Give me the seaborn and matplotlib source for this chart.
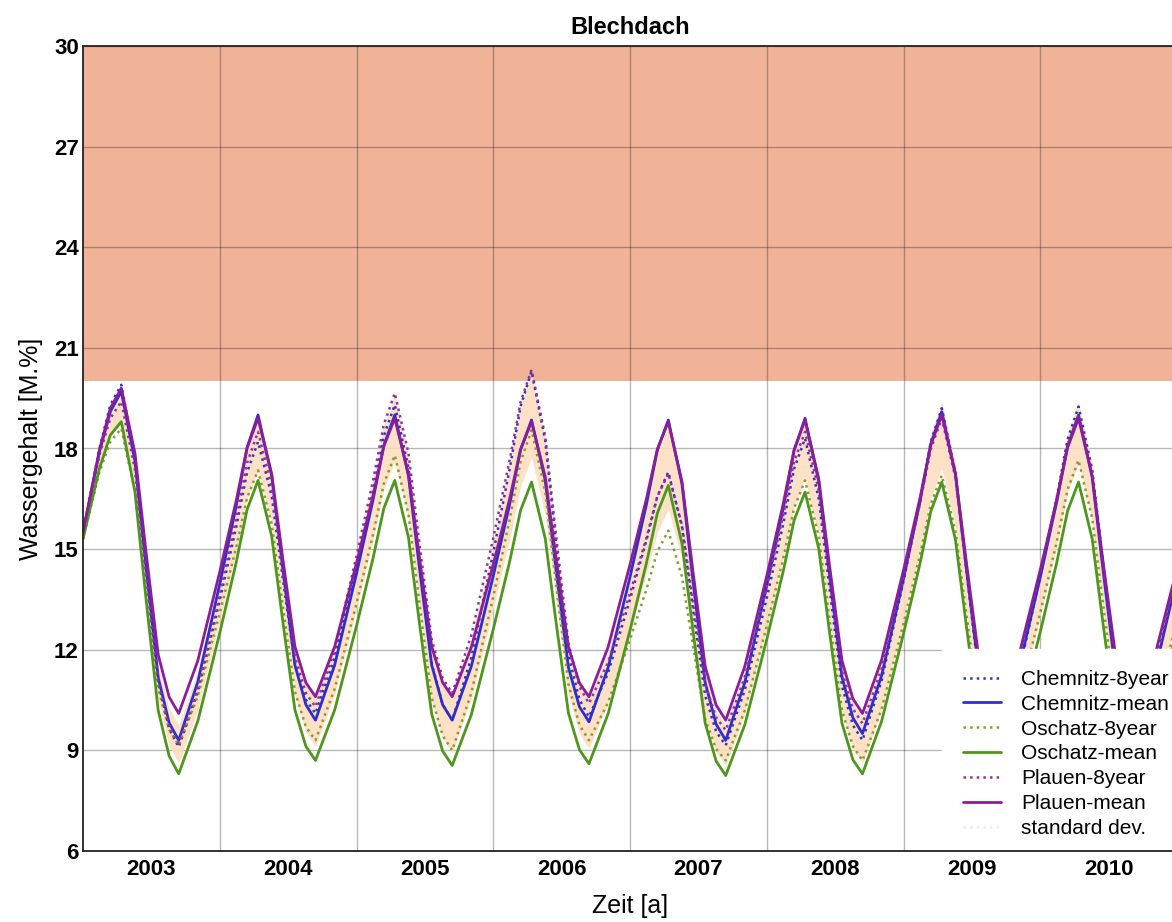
import numpy as np
import pandas as pd
import matplotlib
matplotlib.use("Agg")
import matplotlib.pyplot as plt
from matplotlib.lines import Line2D
from matplotlib.ticker import FixedLocator, NullFormatter
import seaborn as sns

# Sampling positions within each year (fraction of the year)
phase = [0.00, 0.12, 0.20, 0.28, 0.38, 0.46, 0.55, 0.63, 0.70, 0.84]
years = list(range(2003, 2011))
year_labels = [str(y) for y in years]

# Water content [M.%] per station, one row per year, last value = start of 2011
chemnitz_8year = [
    15.50, 18.00, 19.30, 19.90, 17.74, 14.50, 11.04, 9.64, 9.10, 10.74,
    13.47, 15.65, 17.29, 18.20, 16.58, 14.15, 11.56, 10.51, 10.10, 11.76,
    14.52, 16.72, 18.38, 19.30, 17.42, 14.60, 11.59, 10.37, 9.90, 11.77,
    14.89, 17.39, 19.26, 20.30, 18.24, 15.15, 11.85, 10.52, 10.00, 11.31,
    13.50, 15.26, 16.57, 17.30, 15.67, 13.23, 10.62, 9.56, 9.15, 10.80,
    13.54, 15.74, 17.39, 18.30, 16.50, 13.80, 10.92, 9.75, 9.30, 11.08,
    14.05, 16.43, 18.21, 19.20, 17.26, 14.35, 11.25, 9.99, 9.50, 11.26,
    14.18, 16.52, 18.28, 19.25, 17.36, 14.53, 11.50, 10.27, 9.80, 11.46,
    14.22,
]
chemnitz_mean = [
    15.50, 17.90, 19.10, 19.70, 17.62, 14.50, 11.17, 9.82, 9.30, 11.05,
    13.96, 16.28, 18.03, 19.00, 17.18, 14.45, 11.54, 10.36, 9.90, 11.54,
    14.27, 16.45, 18.09, 19.00, 17.18, 14.45, 11.54, 10.36, 9.90, 11.51,
    14.20, 16.34, 17.96, 18.85, 17.05, 14.35, 11.47, 10.30, 9.85, 11.47,
    14.17, 16.33, 17.95, 18.85, 16.94, 14.08, 11.02, 9.78, 9.30, 11.03,
    13.91, 16.21, 17.94, 18.90, 17.02, 14.20, 11.19, 9.97, 9.50, 11.23,
    14.11, 16.41, 18.14, 19.10, 17.22, 14.40, 11.39, 10.17, 9.70, 11.37,
    14.16, 16.40, 18.07, 19.00, 17.14, 14.35, 11.37, 10.17, 9.70, 11.37,
    14.16,
]
oschatz_8year = [
    15.30, 17.30, 18.20, 18.60, 16.71, 13.88, 10.85, 9.62, 9.15, 10.63,
    13.09, 15.05, 16.53, 17.35, 15.74, 13.33, 10.75, 9.70, 9.30, 10.83,
    13.38, 15.42, 16.95, 17.80, 16.04, 13.40, 10.58, 9.44, 9.00, 10.72,
    13.58, 15.88, 17.60, 18.55, 16.70, 13.93, 10.97, 9.76, 9.30, 10.43,
    12.30, 13.80, 14.93, 15.55, 14.18, 12.13, 9.93, 9.04, 8.70, 10.20,
    12.71, 14.71, 16.22, 17.05, 15.38, 12.88, 10.20, 9.12, 8.70, 10.23,
    12.78, 14.82, 16.35, 17.20, 15.54, 13.05, 10.39, 9.32, 8.90, 10.48,
    13.10, 15.20, 16.78, 17.65, 15.92, 13.33, 10.56, 9.43, 9.00, 10.44,
    12.84,
]
oschatz_mean = [
    15.30, 17.40, 18.40, 18.80, 16.70, 13.55, 10.19, 8.83, 8.30, 9.88,
    12.50, 14.60, 16.18, 17.05, 15.38, 12.88, 10.20, 9.12, 8.70, 10.20,
    12.71, 14.71, 16.22, 17.05, 15.35, 12.80, 10.08, 8.98, 8.55, 10.07,
    12.61, 14.63, 16.16, 17.00, 15.32, 12.80, 10.11, 9.02, 8.60, 10.09,
    12.58, 14.58, 16.07, 16.90, 15.17, 12.58, 9.81, 8.68, 8.25, 9.77,
    12.31, 14.33, 15.86, 16.70, 15.02, 12.50, 9.81, 8.72, 8.30, 9.87,
    12.48, 14.56, 16.13, 17.00, 15.28, 12.70, 9.95, 8.83, 8.40, 9.95,
    12.53, 14.59, 16.14, 17.00, 15.30, 12.75, 10.03, 8.93, 8.50, 10.03,
    12.58,
]
plauen_8year = [
    15.50, 17.80, 18.90, 19.40, 17.36, 14.30, 11.04, 9.71, 9.20, 10.87,
    13.66, 15.90, 17.57, 18.50, 16.86, 14.40, 11.78, 10.71, 10.30, 11.98,
    14.79, 17.03, 18.72, 19.65, 17.86, 15.18, 12.31, 11.15, 10.70, 12.44,
    15.33, 17.65, 19.39, 20.35, 18.36, 15.38, 12.19, 10.90, 10.40, 11.63,
    13.69, 15.33, 16.57, 17.25, 15.72, 13.43, 10.98, 9.98, 9.60, 11.20,
    13.87, 16.01, 17.61, 18.50, 16.76, 14.15, 11.37, 10.24, 9.80, 11.44,
    14.17, 16.35, 17.99, 18.90, 17.12, 14.45, 11.60, 10.45, 10.00, 11.62,
    14.32, 16.48, 18.10, 19.00, 17.20, 14.50, 11.62, 10.45, 10.00, 11.60,
    14.27,
]
plauen_mean = [
    15.50, 17.95, 19.20, 19.80, 17.86, 14.95, 11.85, 10.59, 10.10, 11.68,
    14.32, 16.44, 18.02, 18.90, 17.24, 14.75, 12.09, 11.02, 10.60, 12.09,
    14.58, 16.58, 18.07, 18.90, 17.24, 14.75, 12.09, 11.02, 10.60, 12.08,
    14.54, 16.50, 17.98, 18.80, 17.16, 14.70, 12.08, 11.01, 10.60, 12.08,
    14.54, 16.50, 17.98, 18.80, 17.02, 14.35, 11.50, 10.35, 9.90, 11.51,
    14.20, 16.34, 17.96, 18.85, 17.10, 14.48, 11.68, 10.54, 10.10, 11.70,
    14.37, 16.51, 18.11, 19.00, 17.24, 14.60, 11.78, 10.64, 10.20, 11.77,
    14.38, 16.46, 18.03, 18.90, 17.18, 14.60, 11.85, 10.73, 10.30, 11.85,
    14.43,
]

series_names = ["Chemnitz-8year", "Chemnitz-mean", "Oschatz-8year",
                "Oschatz-mean", "Plauen-8year", "Plauen-mean"]
series_values = [chemnitz_8year, chemnitz_mean, oschatz_8year,
                 oschatz_mean, plauen_8year, plauen_mean]
series_colors = ["#3232c4", "#2f2fc8", "#8a9c2e", "#4f961c", "#93309f", "#8a1d98"]
series_styles = [":", "-", ":", "-", ":", "-"]

time = [y + p for y in years for p in phase] + [years[-1] + 1.0]

frames = []
for name, vals in zip(series_names, series_values):
    frames.append(pd.DataFrame({"Zeit": time, "Wassergehalt": vals, "Reihe": name}))
df = pd.concat(frames, ignore_index=True)

# spread across all six runs
wide = df.pivot(index="Zeit", columns="Reihe", values="Wassergehalt")
band_mean = wide.mean(axis=1)
band_std = wide.std(axis=1)

sns.set_theme(style="white")
plt.rcParams["font.family"] = ["Liberation Sans", "DejaVu Sans"]
plt.rcParams["text.color"] = "black"
plt.rcParams["axes.labelcolor"] = "black"
plt.rcParams["xtick.color"] = "black"
plt.rcParams["ytick.color"] = "black"

fig = plt.figure(figsize=(11.72, 9.22), dpi=100)
ax = fig.add_axes([83 / 1172, 1 - 851 / 922, (1177 - 83) / 1172, (851 - 46) / 922])

# critical moisture zone
ax.axhspan(20, 30, color="#f1b398", zorder=0.2, lw=0)

ax.fill_between(wide.index, band_mean - band_std, band_mean + band_std,
                color="#fcdcbc", alpha=0.85, lw=0, zorder=1)

for name, col, ls in zip(series_names, series_colors, series_styles):
    sub = df[df["Reihe"] == name]
    sns.lineplot(data=sub, x="Zeit", y="Wassergehalt", ax=ax, color=col,
                 linestyle=ls, lw=2.0 if ls == "-" else 1.8, label=name,
                 estimator=None, sort=False, zorder=2)

handles, labels = ax.get_legend_handles_labels()
if ax.get_legend() is not None:
    ax.get_legend().remove()

ax.set_xlim(2003, 2011)
ax.set_ylim(6, 30)
ax.set_yticks([6, 9, 12, 15, 18, 21, 24, 27, 30])
ax.set_xticks([y + 0.5 for y in years])
ax.set_xticklabels(year_labels)
ax.xaxis.set_minor_locator(FixedLocator(list(range(2004, 2011))))
ax.xaxis.set_minor_formatter(NullFormatter())
ax.tick_params(axis="both", which="both", length=0)
ax.tick_params(axis="y", pad=3, labelsize=16)
ax.tick_params(axis="x", pad=6, labelsize=16)
for lab in ax.get_xticklabels() + ax.get_yticklabels():
    lab.set_fontweight("bold")

ax.set_axisbelow(True)
ax.grid(False)
ax.grid(axis="y", which="major", color="#000000", alpha=0.28, lw=1.0)
ax.grid(axis="x", which="minor", color="#000000", alpha=0.28, lw=1.0)

for side in ["left", "bottom", "top", "right"]:
    ax.spines[side].set_color("#222222")
    ax.spines[side].set_linewidth(1.3)

ax.set_xlabel("Zeit [a]", fontsize=18, labelpad=10)
ax.set_ylabel("Wassergehalt [M.%]", fontsize=18, labelpad=8)
ax.set_title("Blechdach", fontsize=17, fontweight="bold", pad=9)

handles.append(Line2D([], [], color="#ececec", linestyle=":", lw=1.8))
labels.append("standard dev.")
leg = ax.legend(handles, labels, loc="upper left",
                bbox_to_anchor=(942 / 1172, 1 - 649 / 922),
                bbox_transform=fig.transFigure,
                fontsize=15, frameon=True, fancybox=False, framealpha=1.0,
                facecolor="white", edgecolor="white", borderaxespad=0,
                borderpad=1.0, labelspacing=0.28, handlelength=1.85,
                handletextpad=0.95)
# legend box sits above the curves but below the axes frame
leg.set_zorder(2.4)

fig.savefig("out.png", dpi=100)
